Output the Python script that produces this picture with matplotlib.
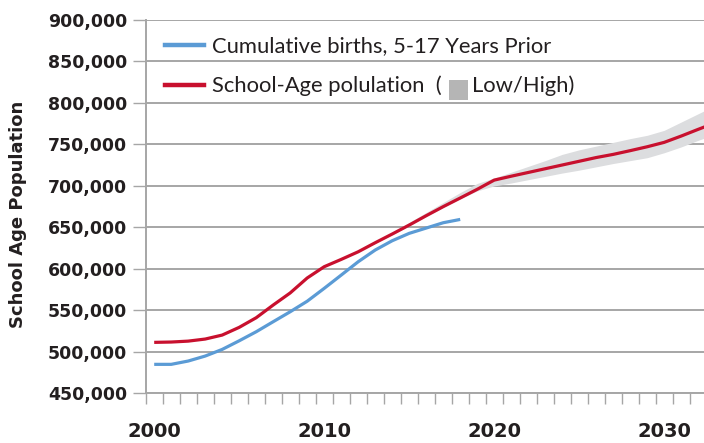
import matplotlib
matplotlib.use("Agg")
import matplotlib.pyplot as plt
from matplotlib.patches import Rectangle
from matplotlib.lines import Line2D
from matplotlib.ticker import FuncFormatter, MultipleLocator

# ---- data ----
birth_years = list(range(2000, 2019))
births = [484900, 484900, 488900, 494900, 502900, 513300, 524200, 536300, 548300, 561000,
          576500, 592500, 608600, 622700, 633900, 642800, 649200, 655600, 659600]

pop_years = list(range(2000, 2034))
population = [511400, 511800, 512900, 515400, 520200, 529500, 541100, 556400, 571000, 589000,
              602600, 611400, 620600, 631500, 642000, 652800, 664100, 675000, 685400, 695900,
              707000, 711700, 716200, 720700, 725200, 729700, 734200, 738000, 742500, 747200,
              752500, 760100, 768200, 776000]

band_years = list(range(2012, 2034))
band_low = [620600, 631000, 641000, 652000, 663000, 674000, 684500, 694000, 700000, 703500,
            707500, 711500, 715500, 719000, 723000, 727000, 730500, 734000, 740000, 747000,
            755000, 762000]
band_high = [620600, 632000, 644000, 656000, 668000, 680000, 692000, 703000, 709500, 716500,
             723500, 730500, 738000, 743500, 748000, 752500, 757000, 761000, 767000, 777000,
             787000, 797000]

y_ticks = [450000, 500000, 550000, 600000, 650000, 700000, 750000, 800000, 850000, 900000]
x_labels = [2000, 2010, 2020, 2030]
legend_births = "Cumulative births, 5-17 Years Prior"
legend_pop_a = "School-Age polulation  ("
legend_pop_b = "Low/High)"
y_title = "School Age Population"

# ---- style ----
W, H = 704, 443
BLUE = "#5b9bd5"
RED = "#c8102e"
BAND = "#dcdddf"
GRID = "#a6a6a6"
TXT = "#231f20"

fig = plt.figure(figsize=(W / 100, H / 100), dpi=100)
ax = fig.add_axes([145.7 / W, (H - 393.3) / H, (W - 145.7) / W, (393.3 - 20) / H])

ax.fill_between(band_years, band_low, band_high, color=BAND, lw=0, zorder=2)
ax.plot(birth_years, births, color=BLUE, lw=2.3, zorder=3, solid_capstyle="butt")
ax.plot(pop_years, population, color=RED, lw=2.3, zorder=4, solid_capstyle="butt")

ax.set_xlim(1999.5, 1999.5 + (W - 145.7) / 17.0)
ax.set_ylim(450000, 900000)

ax.set_yticks(y_ticks)
ax.yaxis.set_major_formatter(FuncFormatter(lambda v, p: f"{int(v):,}"))
ax.grid(axis="y", color=GRID, lw=1.4, zorder=1)
ax.set_axisbelow(True)

ax.set_xticks(x_labels)
ax.set_xticklabels([str(x) for x in x_labels])
ax.xaxis.set_minor_locator(MultipleLocator(1, offset=0.5))
ax.tick_params(axis="x", which="major", length=0, pad=21, labelsize=14, labelcolor=TXT)
ax.tick_params(axis="x", which="minor", length=8, width=1.0, color=GRID, direction="out")
ax.tick_params(axis="y", which="major", length=9.5, width=1.0, color=GRID, direction="out",
               pad=4, labelsize=12.5, labelcolor=TXT)
for lab in ax.get_xticklabels() + ax.get_yticklabels():
    lab.set_fontweight("bold")
    lab.set_family("DejaVu Sans")

for s in ["top", "right"]:
    ax.spines[s].set_visible(False)
ax.spines["left"].set_color(GRID)
ax.spines["left"].set_linewidth(1.4)
ax.spines["bottom"].set_color(GRID)
ax.spines["bottom"].set_linewidth(1.4)

fig.text(18 / W, 1 - 214 / H, y_title, rotation=90, ha="center", va="center",
         fontsize=13, fontweight="bold", color=TXT)

# ---- legend (manual) ----
def fx(px):
    return px / W

def fy(py):
    return 1 - py / H

lfont = dict(fontsize=15.8, color=TXT, family="Lato", va="center", ha="left")
fig.add_artist(Line2D([fx(165), fx(204)], [fy(44.5), fy(44.5)], color=BLUE, lw=3.2))
fig.add_artist(Line2D([fx(165), fx(204)], [fy(84.5), fy(84.5)], color=RED, lw=3.2))
fig.text(fx(212), fy(46), legend_births, **lfont)
t2 = fig.text(fx(212), fy(86), legend_pop_a, **lfont)
fig.canvas.draw()
bb = t2.get_window_extent(fig.canvas.get_renderer())
x_sq = bb.x1 + 7
fig.add_artist(Rectangle((x_sq / W, fy(100)), 19 / W, 20 / H, transform=fig.transFigure,
                         facecolor="#b5b5b5", edgecolor="none"))
fig.text((x_sq + 23) / W, fy(86), legend_pop_b, **lfont)

fig.savefig("out.png", dpi=100)
